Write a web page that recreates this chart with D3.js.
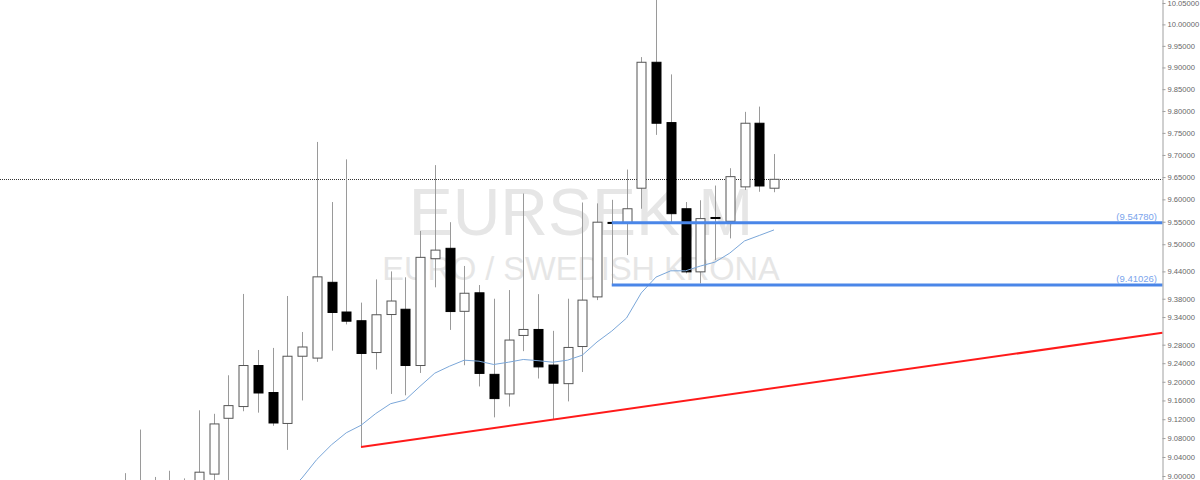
<!DOCTYPE html>
<html>
<head>
<meta charset="utf-8">
<script src="https://cdn.jsdelivr.net/npm/d3@7"></script>
<style>
  html, body { margin: 0; padding: 0; background: #ffffff; }
  svg { display: block; }
</style>
</head>
<body>
<script>
// ---------- data (monthly candles, oldest first) ----------
const candleIndex = ["0","1","2","3","4","5","6","7","8","9","10","11","12","13","14","15","16","17","18","19","20","21","22","23","24","25","26","27","28","29","30","31","32","33","34","35","36","37","38","39","40","41","42","43","44"];
const openValues  = [8.95,8.97,8.99,8.93,8.95,8.92,9.004,9.122,9.147,9.235,9.177,9.111,9.255,9.251,9.416,9.351,9.332,9.263,9.3455,9.357,9.235,9.468,9.491,9.3525,9.393,9.216,9.174,9.300,9.313,9.236,9.196,9.276,9.384,9.5485,9.5478,9.625,9.912,9.7735,9.579,9.439,9.5595,9.551,9.628,9.772,9.625];
const highValues  = [9.006,9.098,8.998,9.011,8.995,9.139,9.1315,9.214,9.3905,9.2685,9.273,9.386,9.3075,9.7295,9.594,9.690,9.3715,9.4224,9.44,9.427,9.5295,9.677,9.549,9.452,9.410,9.380,9.399,9.613,9.390,9.310,9.380,9.593,9.591,9.599,9.667,9.924,10.057,9.884,9.594,9.598,9.631,9.670,9.798,9.810,9.702];
const lowValues   = [8.92,8.93,8.90,8.88,8.87,8.90,8.99,8.99,9.137,9.134,9.106,9.055,9.16,9.243,9.267,9.324,9.061,9.2264,9.174,9.171,9.219,9.405,9.312,9.2356,9.190,9.124,9.147,9.266,9.207,9.119,9.158,9.221,9.377,9.4103,9.476,9.579,9.7455,9.549,9.4356,9.4136,9.465,9.513,9.621,9.617,9.616];
const closeValues = [8.97,8.99,8.93,8.95,8.92,9.008,9.110,9.149,9.235,9.176,9.112,9.255,9.275,9.428,9.350,9.331,9.261,9.345,9.375,9.235,9.471,9.487,9.352,9.392,9.218,9.164,9.290,9.313,9.232,9.197,9.274,9.377,9.549,9.5478,9.579,9.912,9.772,9.568,9.439,9.557,9.5589,9.651,9.772,9.630,9.645];
// moving average (starts at candle 11)
const maStart = 11;
const maValues = [8.965,8.9958,9.0347,9.0658,9.0912,9.1071,9.1321,9.1530,9.1611,9.1903,9.2185,9.2335,9.2465,9.2443,9.2372,9.2421,9.2480,9.2454,9.2421,9.2465,9.2573,9.2858,9.3095,9.3378,9.3927,9.4275,9.4413,9.4413,9.4517,9.4605,9.4804,9.5073,9.5195,9.5318];
// horizontal levels drawn from candle 33
const levelValues = [9.54780, 9.41026];
const levelLabels = ["(9.54780)", "(9.41026)"];
const levelStart = 33;
// trend line through lows of two candles
const trendAnchors = [16, 29];
// axis ticks
const tickValues = [10.05,10.00,9.95,9.90,9.85,9.80,9.75,9.70,9.65,9.60,9.55,9.50,9.44,9.38,9.34,9.28,9.24,9.20,9.16,9.12,9.08,9.04,9.00];
const titleText = "EURSEK,M";
const subtitleText = "EURO / SWEDISH KRONA";

// ---------- layout ----------
const W = 1200, H = 480;
const plotRight = 1162.5;
const svg = d3.select("body").append("svg").attr("width", W).attr("height", H);

const x = d3.scalePoint().domain(candleIndex).range([125, 774]);
const y = d3.scaleLog().domain([9.0, 10.05]).range([476, 3]);
const bodyW = 9;

const candles = candleIndex.map((c, i) => ({
  c, o: openValues[i], h: highValues[i], l: lowValues[i], cl: closeValues[i]
}));

// watermark
svg.append("text").attr("x", 581).attr("y", 235).attr("text-anchor", "middle")
  .attr("font-family", "Liberation Sans, Arial, sans-serif").attr("font-size", 66)
  .attr("fill", "#e6e6e6").text(titleText);
svg.append("text").attr("x", 581).attr("y", 280).attr("text-anchor", "middle")
  .attr("font-family", "Liberation Sans, Arial, sans-serif").attr("font-size", 32.5)
  .attr("fill", "#e6e6e6").text(subtitleText);

const plot = svg.append("g");

// current price dotted line
const last = closeValues[closeValues.length - 1];
plot.append("line").attr("x1", 0).attr("x2", plotRight)
  .attr("y1", Math.round(y(last)) + 0.5).attr("y2", Math.round(y(last)) + 0.5)
  .attr("stroke", "#333").attr("stroke-width", 1).attr("stroke-dasharray", "1,1");

// wicks
plot.selectAll("line.wick").data(candles).join("line").attr("class", "wick")
  .attr("x1", d => Math.round(x(d.c)) + 0.5).attr("x2", d => Math.round(x(d.c)) + 0.5)
  .attr("y1", d => y(d.h)).attr("y2", d => y(d.l))
  .attr("stroke", "#9a9a9a").attr("stroke-width", 1);

// bodies
plot.selectAll("rect.body").data(candles).join("rect").attr("class", "body")
  .attr("x", d => Math.round(x(d.c)) - bodyW / 2 + 0.5)
  .attr("y", d => y(Math.max(d.o, d.cl)))
  .attr("width", bodyW)
  .attr("height", d => Math.max(1, Math.abs(y(d.o) - y(d.cl))))
  .attr("fill", d => d.cl >= d.o ? "#ffffff" : "#000000")
  .attr("stroke", d => d.cl >= d.o ? "#555555" : "#000000")
  .attr("stroke-width", 1);

// moving average
const maData = maValues.map((v, i) => ({ c: candleIndex[maStart + i], v }));
plot.append("path").datum(maData)
  .attr("d", d3.line().x(d => x(d.c)).y(d => y(d.v)))
  .attr("fill", "none").attr("stroke", "#7ba7d9").attr("stroke-width", 1);

// horizontal levels
levelValues.forEach((v, i) => {
  const yy = y(v);
  plot.append("line").attr("x1", x(candleIndex[levelStart])).attr("x2", plotRight)
    .attr("y1", yy).attr("y2", yy).attr("stroke", "#4a86e8").attr("stroke-width", 3);
  plot.append("text").attr("x", 1157).attr("y", yy - 2.5).attr("text-anchor", "end")
    .attr("font-family", "Liberation Sans, Arial, sans-serif").attr("font-size", 9.5)
    .attr("fill", "#7aa4ec").text(levelLabels[i]);
});

// trend line: through lows of two anchor candles, extended to right edge
const ax = x(candleIndex[trendAnchors[0]]), ay = y(lowValues[trendAnchors[0]]);
const bx = x(candleIndex[trendAnchors[1]]), by = y(lowValues[trendAnchors[1]]);
const slope = (by - ay) / (bx - ax);
plot.append("line").attr("x1", ax).attr("y1", ay)
  .attr("x2", plotRight).attr("y2", ay + slope * (plotRight - ax))
  .attr("stroke", "#ff1a1a").attr("stroke-width", 2);

// right axis
const axis = d3.axisRight(y).tickValues(tickValues).tickSize(3)
  .tickFormat(d => d3.format(".5f")(d));
const gA = svg.append("g").attr("transform", `translate(${plotRight},0)`).call(axis);
gA.select(".domain").attr("stroke", "#a0a0a0").attr("d", `M0.5,0V${H}`);
gA.selectAll(".tick line").attr("stroke", "#a0a0a0");
gA.selectAll(".tick text").attr("x", 5).attr("fill", "#666")
  .attr("font-family", "Liberation Sans, Arial, sans-serif").attr("font-size", 7.6);
</script>
</body>
</html>
